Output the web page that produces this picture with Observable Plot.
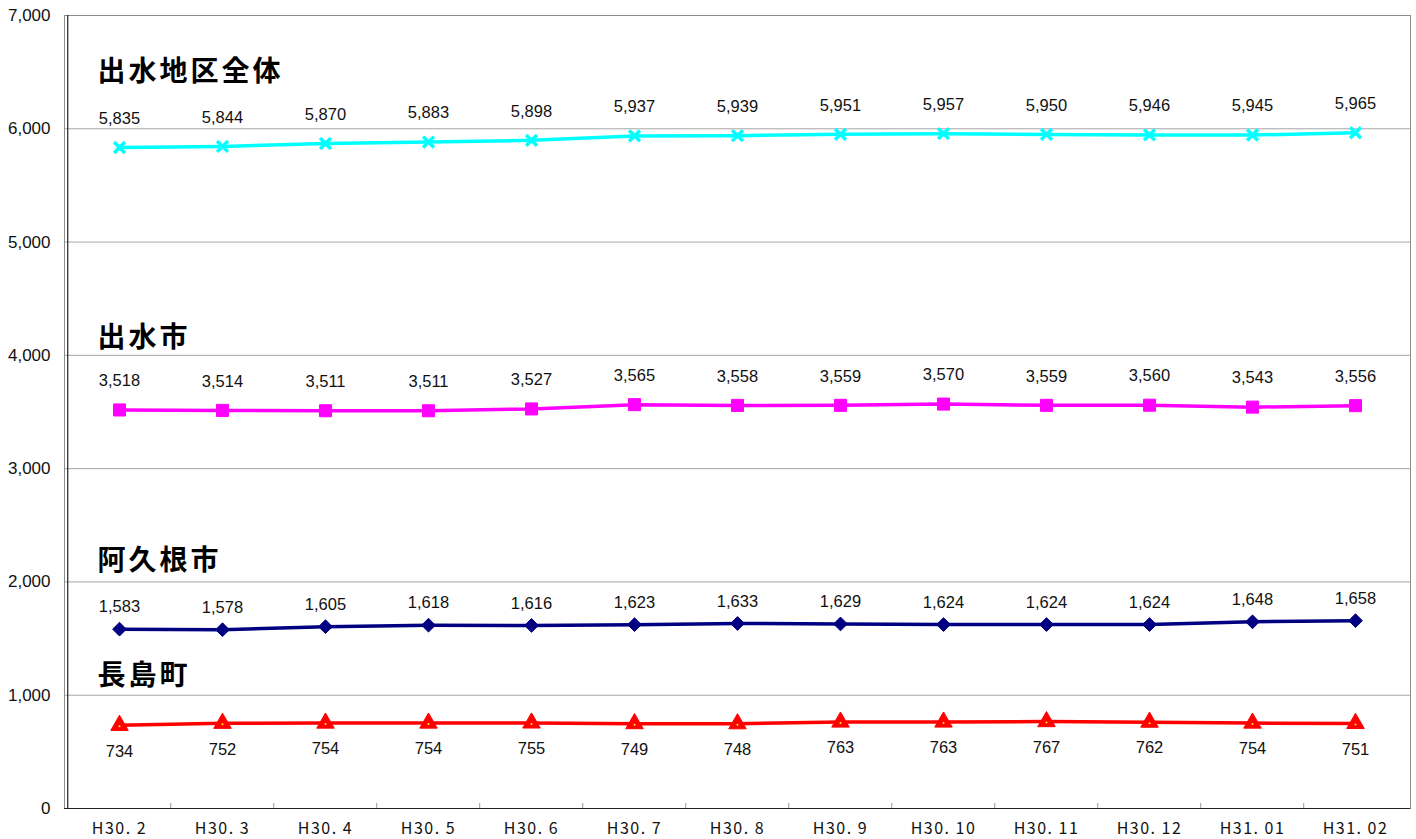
<!DOCTYPE html>
<html>
<head>
<meta charset="utf-8">
<script src="https://cdn.jsdelivr.net/npm/d3@7"></script>
<script src="https://cdn.jsdelivr.net/npm/@observablehq/plot@0.6"></script>
<style>
  html, body { margin: 0; padding: 0; background: #fff; }
  #chart svg { display: block; }
</style>
</head>
<body>
<div id="chart"></div>
<script>
// ---- data ----
const months = ["H30. 2","H30. 3","H30. 4","H30. 5","H30. 6","H30. 7","H30. 8","H30. 9","H30. 10","H30. 11","H30. 12","H31. 01","H31. 02"];
const seriesNames = ["出水地区全体","出水市","阿久根市","長島町"];
const izumiArea = [5835,5844,5870,5883,5898,5937,5939,5951,5957,5950,5946,5945,5965];
const izumiCity = [3518,3514,3511,3511,3527,3565,3558,3559,3570,3559,3560,3543,3556];
const akuneCity = [1583,1578,1605,1618,1616,1623,1633,1629,1624,1624,1624,1648,1658];
const nagashimaTown = [734,752,754,754,755,749,748,763,763,767,762,754,751];
const yTicks = [0,1000,2000,3000,4000,5000,6000,7000];

// ---- styling per series ----
const styles = [
  {color: "#00FFFF", symbol: "times", labelDy: -29, nameDy: -75},
  {color: "#FF00FF", symbol: "square", labelDy: -29, nameDy: -72},
  {color: "#000080", symbol: "diamond2", labelDy: -22, nameDy: -68},
  {color: "#FF0000", symbol: "triangle", labelDy: 26, nameDy: -49}
];
const valuesList = [izumiArea, izumiCity, akuneCity, nagashimaTown];

const rows = [];
seriesNames.forEach((name, si) => {
  valuesList[si].forEach((v, i) => rows.push({series: name, si, month: months[i], value: v}));
});

const W = 1416, H = 839;
const mL = 64, mR = 6, mT = 15, mB = 31;
const step = (W - mL - mR) / months.length;
const plotH = H - mT - mB;
const fmt = d3.format(",");

const marks = [
  Plot.ruleY(yTicks.filter(t => t > 0 && t < 7000), {stroke: "#a6a6a6", strokeWidth: 1}),
  Plot.frame({stroke: "#8c8c8c", strokeWidth: 1}),
  Plot.tickX(months.slice(1), {x: d => d, dx: -step / 2, stroke: "#9a9a9a", insetTop: plotH - 5}),
  Plot.ruleX([months[0]], {x: d => d, dx: -step / 2, stroke: "#222", strokeWidth: 1.2}),
  Plot.ruleY([0], {stroke: "#222", strokeWidth: 1.2}),
  Plot.axisY({ticks: yTicks, tickSize: 0, tickPadding: 14, tickFormat: fmt, fontSize: 17, fill: "#111",
    fontFamily: "Liberation Sans, Arial, sans-serif", label: null}),
  Plot.axisX({tickSize: 0, tickPadding: 14, fontSize: 16, fill: "#111",
    fontFamily: "'Noto Sans CJK JP', sans-serif", label: null})
];

seriesNames.forEach((name, si) => {
  const st = styles[si];
  const d = rows.filter(r => r.si === si);
  marks.push(Plot.line(d, {x: "month", y: "value", stroke: st.color, strokeWidth: 3.5}));
  if (st.symbol === "times") {
    marks.push(Plot.dot(d, {x: "month", y: "value", symbol: "times", r: 5, stroke: st.color, strokeWidth: 3.5}));
  } else if (st.symbol === "triangle") {
    marks.push(Plot.dot(d, {x: "month", y: "value", symbol: "triangle", r: 6.5, fill: st.color, stroke: st.color, strokeWidth: 1}));
    marks.push(Plot.dot(d, {x: "month", y: "value", r: 1, fill: "#FFFF00", dy: 1}));
  } else {
    marks.push(Plot.dot(d, {x: "month", y: "value", symbol: st.symbol, r: st.symbol === "square" ? 6.8 : 6.2, fill: st.color, stroke: st.color, strokeWidth: 1}));
  }
  marks.push(Plot.text(d, {x: "month", y: "value", text: r => fmt(r.value), dy: st.labelDy, fontSize: 16.5, fill: "#111",
    fontFamily: "Liberation Sans, Arial, sans-serif"}));
  marks.push(Plot.text([d[0]], {x: "month", y: "value", text: () => name, dx: -22, dy: st.nameDy, textAnchor: "start",
    fontSize: 28, fontWeight: "bold", fill: "#000", fontFamily: "'Noto Sans CJK JP', sans-serif"}));
});

const chart = Plot.plot({
  width: W, height: H,
  marginLeft: mL, marginRight: mR, marginTop: mT, marginBottom: mB,
  x: {type: "point", domain: months, padding: 0.5, axis: null},
  y: {domain: [0, 7000], axis: null},
  style: {background: "#fff"},
  marks
});
chart.querySelectorAll("text").forEach(t => {
  const s = t.textContent || "";
  if (/^[出阿長]/.test(s)) t.setAttribute("letter-spacing", "3");
  if (/^H3/.test(s)) t.setAttribute("letter-spacing", "1.5");
});
document.getElementById("chart").appendChild(chart);
</script>
</body>
</html>
